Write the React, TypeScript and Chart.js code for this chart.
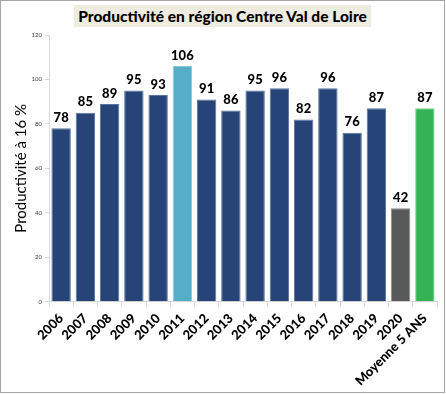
import React, { useEffect, useRef } from "react";
import { Chart, registerables } from "chart.js";

Chart.register(...registerables);

const categories = ["2006","2007","2008","2009","2010","2011","2012","2013","2014","2015","2016","2017","2018","2019","2020","Moyenne 5 ANS"];
const values = [78, 85, 89, 95, 93, 106, 91, 86, 95, 96, 82, 96, 76, 87, 42, 87];
const yTicks = [0, 20, 40, 60, 80, 100, 120];
const titleText = "Productivité en région Centre Val de Loire";
const yTitle = "Productivité à 16 %";

const DARK = "#264478";
const fills = values.map((_, i) => i === 5 ? "#55AEC7" : i === 14 ? "#595959" : i === 15 ? "#33B354" : DARK);
const borders = values.map((_, i) => i === 5 ? "#8CC8DA" : i === 14 ? "#8a8a8a" : i === 15 ? "#7dd192" : "#5a73a0");

const FONT = "Lato, 'Liberation Sans', sans-serif";

const labelPlugin = {
  id: "valueLabels",
  afterDatasetsDraw(chart: any) {
    const ctx = chart.ctx;
    const meta = chart.getDatasetMeta(0);
    ctx.save();
    ctx.font = `900 13px ${FONT}`;
    ctx.fillStyle = "#000";
    ctx.textAlign = "center";
    ctx.textBaseline = "bottom";
    meta.data.forEach((el: any, i: number) => {
      ctx.fillText(String(values[i]), el.x, el.y - 4);
    });
    ctx.restore();
  },
};

export default function App() {
  const ref = useRef<HTMLCanvasElement>(null);
  useEffect(() => {
    document.body.style.margin = "0";
    const chart = new Chart(ref.current!, {
      type: "bar",
      data: {
        labels: categories,
        datasets: [{
          data: values,
          backgroundColor: fills,
          borderColor: borders,
          borderWidth: 1,
          barPercentage: 0.8,
          categoryPercentage: 1,
        }],
      },
      options: {
        animation: false,
        responsive: false,
        layout: { padding: { top: 34, right: 7, left: 0, bottom: 0 } },
        plugins: { legend: { display: false }, tooltip: { enabled: false }, title: { display: false } },
        scales: {
          x: {
            grid: { display: true, drawOnChartArea: false, drawTicks: true, tickLength: 5, color: "#d9d9d9", offset: true },
            border: { color: "#d9d9d9" },
            ticks: {
              autoSkip: false, maxRotation: 45, minRotation: 45,
              color: "#000", font: { family: FONT, size: 13, weight: "900" }, padding: 4,
            },
            afterFit(s: any) { s.height = 90.3; },
          },
          y: {
            min: 0, max: 120,
            afterBuildTicks(s: any) { s.ticks = yTicks.map(v => ({ value: v })); },
            grid: { display: true, drawOnChartArea: false, drawTicks: true, tickLength: 4, color: "#d9d9d9" },
            border: { color: "#d9d9d9" },
            ticks: { color: "#404040", font: { family: FONT, size: 6 }, padding: 3 },
            title: { display: true, text: yTitle, color: "#000", font: { family: FONT, size: 15 }, padding: { top: 11, bottom: 0 } },
            afterFit(s: any) { s.width = 48; },
          },
        },
      },
      plugins: [labelPlugin],
    });
    return () => chart.destroy();
  }, []);
  return (
    <div style={{ position: "absolute", left: 0, top: 0, width: 445, height: 393, boxSizing: "border-box", border: "1px solid #a6a6a6", background: "#fff" }}>
      <canvas ref={ref} width={443} height={391} style={{ display: "block" }} />
      <div style={{ position: "absolute", top: 4, left: 0, right: 0, textAlign: "center" }}>
        <span style={{ display: "inline-block", background: "#EEECE1", fontFamily: FONT, fontWeight: 900, fontSize: 15.5, lineHeight: "22px", padding: "0 4px", color: "#000" }}>{titleText}</span>
      </div>
    </div>
  );
}
